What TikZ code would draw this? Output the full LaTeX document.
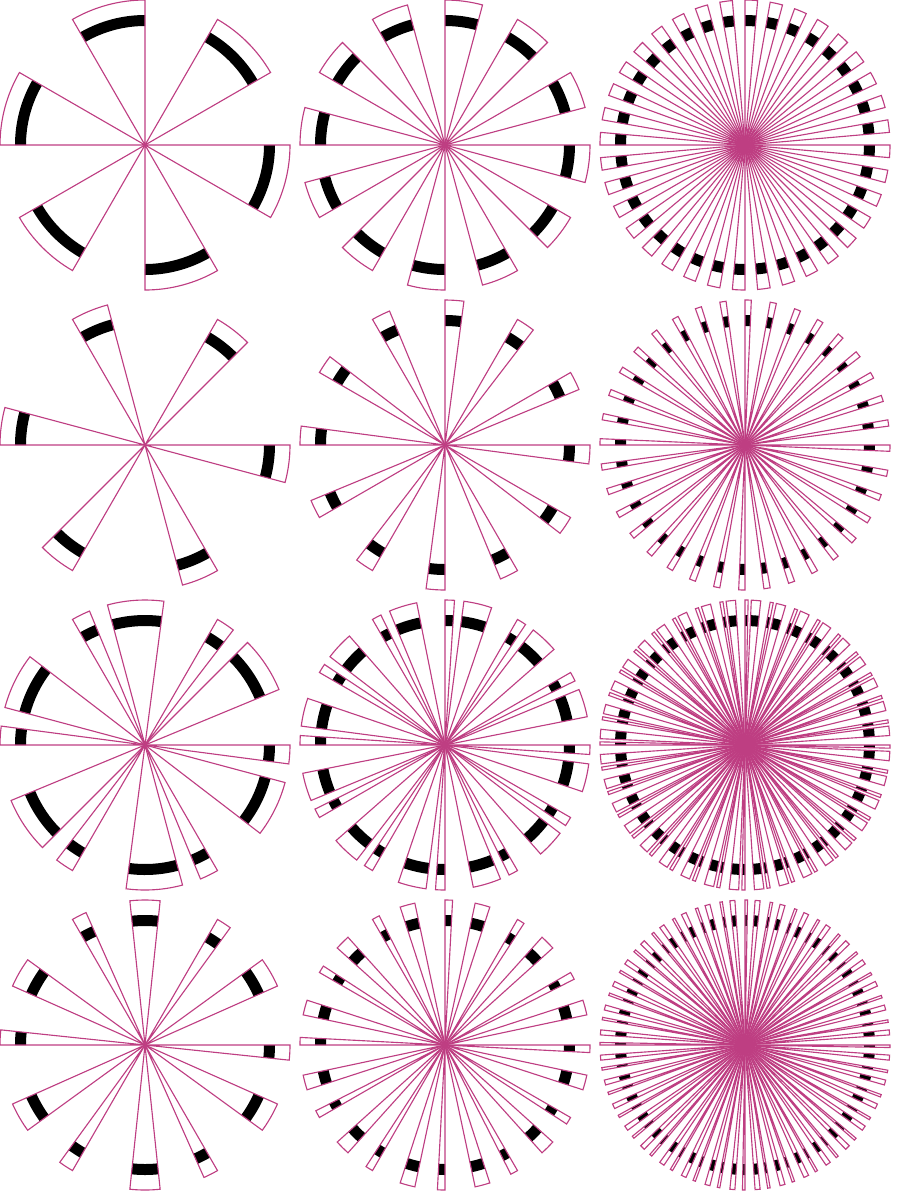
\documentclass[tikz,border=0pt]{standalone}
\usepackage{tikz}
\usetikzlibrary{calc}
\definecolor{speiche}{RGB}{190,62,130}
\tikzset{
    rand/.style   = {draw=speiche, line width=0.32pt, line join=miter},
    balken/.style = {fill=black}
}
% Keil von Winkel #1 bis #2, mit schwarzem Balken
\newcommand{\keil}[2]{%
    \fill[balken] (#1:1.19) arc[start angle=#1, end angle=#2, radius=1.19]
        -- (#2:1.30) arc[start angle=#2, end angle=#1, radius=1.30] -- cycle;
    \draw[rand] (0,0) -- (#1:1.45) arc[start angle=#1, end angle=#2, radius=1.45] -- cycle;
}

\begin{document}
\begin{tikzpicture}[x=1cm, y=1cm]
    \useasboundingbox (0,0) rectangle (9,-12);

    % --- Reihe 1: halbe Keile ---
    \foreach \per [count=\spalte from 0] in {60,30,10} {
        \pgfmathtruncatemacro{\anz}{360/\per-1}
        \begin{scope}[shift={({1.45+3*\spalte},-1.45)}]
            \foreach \k in {0,...,\anz} {
                \pgfmathsetmacro{\wa}{\per*\k+\per/2}
                \pgfmathsetmacro{\wb}{\per*\k+\per}
                \keil{\wa}{\wb}
            }
        \end{scope}
    }

    % --- Reihe 2: Viertelkeile ---
    \foreach \per [count=\spalte from 0] in {60,30,10} {
        \pgfmathtruncatemacro{\anz}{360/\per-1}
        \begin{scope}[shift={({1.45+3*\spalte},-4.45)}]
            \foreach \k in {0,...,\anz} {
                \pgfmathsetmacro{\wa}{\per*\k+3*\per/4}
                \pgfmathsetmacro{\wb}{\per*\k+\per}
                \keil{\wa}{\wb}
            }
        \end{scope}
    }

    % --- Reihe 3: breit und schmal ---
    \foreach \per [count=\spalte from 0] in {60,30,10} {
        \pgfmathtruncatemacro{\anz}{360/\per-1}
        \begin{scope}[shift={({1.45+3*\spalte},-7.45)}]
            \foreach \k in {0,...,\anz} {
                \pgfmathsetmacro{\wa}{\per*\k+3*\per/8}
                \pgfmathsetmacro{\wb}{\per*\k+3*\per/4}
                \keil{\wa}{\wb}
                \pgfmathsetmacro{\wa}{\per*\k+7*\per/8}
                \pgfmathsetmacro{\wb}{\per*\k+\per}
                \keil{\wa}{\wb}
            }
        \end{scope}
    }

    % --- Reihe 4: mittig breit, schmal am Rand ---
    \foreach \per [count=\spalte from 0] in {60,30,10} {
        \pgfmathtruncatemacro{\anz}{360/\per-1}
        \begin{scope}[shift={({1.45+3*\spalte},-10.45)}]
            \foreach \k in {0,...,\anz} {
                \pgfmathsetmacro{\wa}{\per*\k+0.4*\per}
                \pgfmathsetmacro{\wb}{\per*\k+0.6*\per}
                \keil{\wa}{\wb}
                \pgfmathsetmacro{\wa}{\per*\k+0.9*\per}
                \pgfmathsetmacro{\wb}{\per*\k+\per}
                \keil{\wa}{\wb}
            }
        \end{scope}
    }
\end{tikzpicture}
\end{document}
